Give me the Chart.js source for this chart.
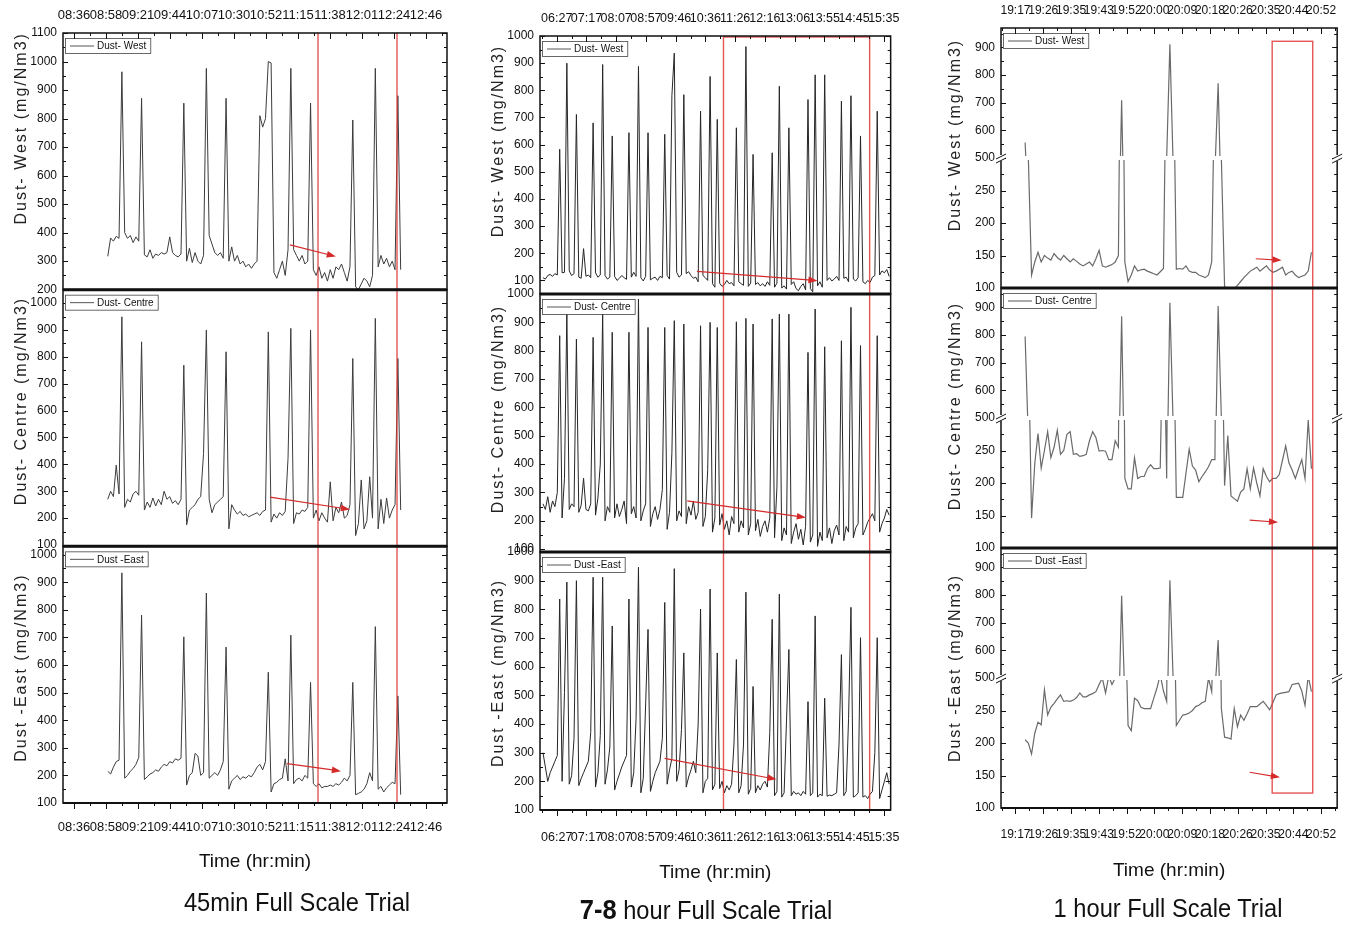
<!DOCTYPE html>
<html>
<head>
<meta charset="utf-8">
<title>Dust concentration - full scale trials</title>
<script src="https://cdn.jsdelivr.net/npm/chart.js@4.4.1/dist/chart.umd.min.js"></script>
<style>
  body { margin: 0; background: #fff; }
  #wrap { position: relative; width: 1356px; height: 926px; overflow: hidden; }
  canvas { position: absolute; top: 0; }
  .trial { position: absolute; transform: translate(-50%, -50%) scaleX(0.91); white-space: nowrap; color: #111;
           font-family: 'Liberation Sans', Arial, sans-serif; font-size: 26px; }
  .trial b { font-size: 28px; }
</style>
</head>
<body>
<div id="wrap">
  <canvas id="c45" width="460" height="926" style="left:0"></canvas>
  <canvas id="c78" width="460" height="926" style="left:460px"></canvas>
  <canvas id="c1h" width="436" height="926" style="left:920px"></canvas>
  <div class="trial" style="left:297px;top:902px">45min Full Scale Trial</div>
  <div class="trial" style="left:706px;top:910px"><b>7-8</b> hour Full Scale Trial</div>
  <div class="trial" style="left:1168px;top:908px">1 hour Full Scale Trial</div>
</div>
<script>
const FONT = "'Liberation Sans', Arial, sans-serif";

// time axis tick labels
const ticks45 = ['08:36', '08:58', '09:21', '09:44', '10:07', '10:30', '10:52', '11:15', '11:38', '12:01', '12:24', '12:46'];
const ticks78 = ['06:27', '07:17', '08:07', '08:57', '09:46', '10:36', '11:26', '12:16', '13:06', '13:55', '14:45', '15:35'];
const ticks1h = ['19:17', '19:26', '19:35', '19:43', '19:52', '20:00', '20:09', '20:18', '20:26', '20:35', '20:44', '20:52'];

// y tick values
const yTicksWest45 = [200, 300, 400, 500, 600, 700, 800, 900, 1000, 1100];
const yTicks100 = [100, 200, 300, 400, 500, 600, 700, 800, 900, 1000];
const yTicksHigh = [500, 600, 700, 800, 900];
const yTicksLow = [100, 150, 200, 250];

// logger sampling (start time, minutes between readings)
const start45 = '09:00', step45 = 2;
const start78 = '06:04', step78 = 4;
const start1h = '19:20', step1h = 1;

// 45 min trial, mg/Nm3
const west45 = [317,381,370,387,380,964,400,380,390,365, 385,370,871,322,315,340,310,325,320,330,
  325,330,385,330,320,315,325,854,300,345, 295,330,300,290,320,976,390,360,330,320,
  330,310,871,300,350,300,320,290,300,280, 290,275,290,300,810,770,800,1000,995,260,
  240,270,300,250,340,976,340,320,300,320, 290,300,854,270,250,280,240,260,230,270,
  240,280,270,290,260,230,280,795,210,200, 220,240,230,210,250,976,280,320,290,310,
  280,300,270,880,270];
const centre45 = [270,300,280,397,290,949,240,270,260,290, 300,285,856,230,260,240,275,245,270,250,
  300,270,280,255,265,250,270,769,175,230, 240,250,270,280,441,900,270,220,250,260,
  270,280,819,160,250,230,215,225,210,215, 205,210,215,220,210,225,230,893,185,215,
  200,220,210,225,422,906,180,220,215,230, 225,240,900,200,230,190,220,200,185,335,
  190,240,220,260,200,210,250,794,135,180, 342,160,190,354,200,943,160,270,180,275,
  200,230,250,794,230];
const east45 = [215,205,230,250,255,934,190,200,215,225, 240,265,781,185,195,205,210,220,215,230,
  240,235,250,245,260,255,262,702,165,200, 210,280,270,200,210,861,190,200,210,200,
  220,250,665,150,180,190,200,185,195,190, 200,195,210,230,240,220,250,574,140,170,
  175,185,190,260,180,708,170,185,190,180, 200,190,537,170,160,170,155,160,160,165,
  160,170,165,175,190,180,200,537,130,135, 140,150,170,210,180,739,150,160,140,155,
  165,175,170,488,130];

// 7-8 hour trial, mg/Nm3
const west78 = [110,105,118,122,115,125,120,583,128,130, 900,135,118,125,711,112,108,217,115,120,
  110,680,128,112,120,895,118,105,112,632, 115,100,108,118,110,104,644,112,130,115,
  888,110,98,115,644,102,108,112,100,115, 110,638,118,105,780,937,130,112,120,784,
  125,132,118,108,112,95,723,118,110,100, 851,88,75,693,90,78,85,100,88,92,
  80,662,95,88,82,961,78,90,564,85, 92,80,88,78,95,82,570,75,90,815,
  72,80,68,662,85,95,70,62,78,88, 65,766,70,58,857,80,95,75,857,100,
  110,98,105,115,100,760,108,112,95,780, 105,98,110,632,95,88,100,92,112,118,
  723,120,135,128,140,115];
const centre78 = [260,240,285,230,270,250,300,853,210,350, 935,240,260,250,841,230,255,350,240,235,
  260,847,220,280,400,929,200,250,230,865, 210,260,215,240,270,190,865,225,250,210,
  982,200,235,260,882,180,225,250,205,240, 310,882,170,230,440,906,200,235,215,894,
  190,250,220,270,205,230,888,180,215,380, 900,160,210,882,185,225,170,200,150,215,
  190,902,160,200,175,914,150,190,894,165, 205,145,180,200,160,210,912,140,320,929,
  130,175,150,929,120,160,190,135,170,115, 180,794,125,150,947,110,160,130,814,140,
  175,120,165,185,150,835,130,180,160,953, 140,175,190,818,150,170,195,210,225,200,
  853,160,190,210,240,220];
const east78 = [300,250,200,230,250,270,290,836,200,510, 895,190,220,350,900,185,210,230,250,270,
  370,912,180,230,360,912,190,240,320,742, 170,200,225,250,270,290,836,180,230,420,
  947,160,210,470,730,165,200,230,250,270, 350,824,190,240,280,942,200,240,380,648,
  180,215,240,270,230,400,801,160,200,210, 871,170,190,648,175,200,160,185,170,190,
  330,625,160,185,330,860,155,175,531,160, 185,170,190,200,180,370,765,150,165,853,
  145,160,410,660,150,165,155,160,150,165, 155,478,150,160,777,145,155,150,490,148,
  152,150,155,160,330,642,150,165,420,807, 145,150,160,701,145,150,140,155,165,300,
  701,140,170,200,230,190];

// 1 hour trial, mg/Nm3
const west1h = [556,300,120,140,155,140,150,146,143,153, 147,143,150,145,140,145,141,137,134,137,
  140,134,145,158,134,132,134,136,140,150, 709,140,110,120,134,126,128,129,126,124,
  122,120,125,130,500,911,480,129,130,129, 134,126,124,124,120,118,116,120,140,450,
  770,300,102,100,98,99,104,110,116,121, 126,129,132,126,130,134,128,124,126,129,
  132,120,124,126,120,116,118,120,126,155];
const centre1h = [795,420,146,230,276,223,250,279,239,255, 281,244,250,275,279,244,245,241,242,244,
  265,279,270,249,250,249,236,236,265,255, 868,207,191,191,239,207,210,210,222,228,
  222,222,223,490,207,917,480,178,178,178, 215,252,226,220,202,210,217,225,236,236,
  905,500,196,273,180,176,172,186,191,222, 191,223,200,180,222,210,202,207,207,213,
  235,257,231,220,207,222,236,207,297,222];
const east1h = [205,200,183,215,232,228,282,243,255,261, 268,274,264,265,264,266,270,277,271,271,
  274,276,279,290,300,277,303,290,300,310, 797,420,227,219,269,265,255,253,253,253,
  269,285,305,280,264,853,500,227,235,243, 244,246,250,256,258,262,264,300,279,450,
  637,253,209,208,206,253,225,243,235,245, 256,256,256,260,264,258,251,262,274,276,
  277,278,279,290,291,292,280,258,303,279];

function toMin(s) {
    const p = s.split(':');
    return +p[0] * 60 + +p[1];
}

// labels are evenly spaced between the first and last one
function tickPositions(labels) {
    const a = toMin(labels[0]), b = toMin(labels[labels.length - 1]);
    const step = (b - a) / (labels.length - 1);
    return labels.map((l, i) => a + i * step);
}

function points(start, step, values) {
    const t0 = toMin(start);
    return values.map((v, i) => ({ x: t0 + i * step, y: v }));
}

function line(data, yAxisID, color, width) {
    return { data, yAxisID, xAxisID: 'x', borderColor: color, borderWidth: width || 1,
             pointRadius: 0, tension: 0, fill: false };
}

function yAxis(min, max, values, width) {
    return {
        type: 'linear', position: 'left', stack: 'panels', stackWeight: 1, min, max,
        afterBuildTicks: s => { s.ticks = values.map(v => ({ value: v })); },
        afterFit: s => { s.width = width; },
        grid: { display: false, drawTicks: false }, border: { display: false },
        ticks: { autoSkip: false, padding: 6, color: '#111', font: { family: FONT, size: 12 },
                 callback: v => String(v) }
    };
}

function xAxis(position, min, max, labels, height, pad, size) {
    const pos = tickPositions(labels);
    return {
        type: 'linear', position, min, max,
        afterBuildTicks: s => { s.ticks = pos.map(v => ({ value: v })); },
        afterFit: s => { s.height = height; },
        grid: { display: false, drawTicks: false }, border: { display: false },
        ticks: { autoSkip: false, maxRotation: 0, minRotation: 0, padding: pad, color: '#111',
                 font: { family: FONT, size }, callback: (v, i) => labels[i] },
        title: { display: position === 'bottom', text: 'Time (hr:min)', color: '#111',
                 font: { family: FONT, size: 19 }, padding: { top: 0, bottom: 7 } }
    };
}

function seg(ctx, x0, y0, x1, y1) {
    ctx.beginPath();
    ctx.moveTo(x0, y0);
    ctx.lineTo(x1, y1);
    ctx.stroke();
}

function drawRed(chart, r) {
    const ctx = chart.ctx, x = chart.scales.x;
    const { top, bottom } = chart.chartArea;
    ctx.strokeStyle = 'rgba(225,55,55,0.85)';
    ctx.lineWidth = 1.4;
    (r.lines || []).forEach(t => {
        const px = x.getPixelForValue(t);
        seg(ctx, px, top, px, bottom);
    });
    if (r.box) {
        const x0 = x.getPixelForValue(r.box.x0), x1 = x.getPixelForValue(r.box.x1);
        const y0 = r.box.y0 ? chart.scales[r.box.y0[0]].getPixelForValue(r.box.y0[1]) : top + 1;
        const y1 = r.box.y1 ? chart.scales[r.box.y1[0]].getPixelForValue(r.box.y1[1]) : bottom;
        ctx.strokeRect(x0, y0, x1 - x0, y1 - y0);
    }
    ctx.strokeStyle = '#d42a2a';
    ctx.fillStyle = '#d42a2a';
    ctx.lineWidth = 1.2;
    (r.arrows || []).forEach(a => {
        const y = chart.scales[a.axis];
        const p0 = [x.getPixelForValue(a.from[0]), y.getPixelForValue(a.from[1])];
        const p1 = [x.getPixelForValue(a.to[0]), y.getPixelForValue(a.to[1])];
        seg(ctx, p0[0], p0[1], p1[0], p1[1]);
        const ang = Math.atan2(p1[1] - p0[1], p1[0] - p0[0]);
        ctx.beginPath();
        ctx.moveTo(p1[0] + 3 * Math.cos(ang), p1[1] + 3 * Math.sin(ang));
        ctx.lineTo(p1[0] - 7 * Math.cos(ang - 0.5), p1[1] - 7 * Math.sin(ang - 0.5));
        ctx.lineTo(p1[0] - 7 * Math.cos(ang + 0.5), p1[1] - 7 * Math.sin(ang + 0.5));
        ctx.closePath();
        ctx.fill();
    });
}

function yTickMarks(ctx, s, L, R) {
    const v = s.ticks.map(t => t.value);
    const half = (v[1] - v[0]) / 2;
    for (let t = v[0] - half; t <= s.max + 1e-6; t += half) {
        if (t < s.min - 1e-6) continue;
        const y = Math.round(s.getPixelForValue(t)) + 0.5;
        const len = v.some(m => Math.abs(m - t) < 1e-6) ? 5 : 3;
        seg(ctx, L, y, L + len, y);
        seg(ctx, R, y, R - len, y);
    }
}

const decor = {
    id: 'decor',
    afterDatasetsDraw(chart, args, o) {
        const ctx = chart.ctx, x = chart.scales.x;
        const L = x.left, R = x.right;
        const T = chart.chartArea.top, B = chart.chartArea.bottom;
        ctx.save();

        // white gap where the broken axes meet
        o.panels.forEach(p => {
            if (p.axes.length > 1) {
                const yb = chart.scales[p.axes[0]].bottom;
                ctx.fillStyle = '#fff';
                ctx.fillRect(L + 1, yb - 2, R - L - 2, 4);
            }
        });

        drawRed(chart, o.red);

        ctx.strokeStyle = '#111';
        o.panels.forEach((p, k) => {
            const axes = p.axes.map(id => chart.scales[id]);
            const top = axes[0].top, bottom = axes[axes.length - 1].bottom;

            ctx.lineWidth = 1.5;
            ctx.strokeRect(L, top, R - L, bottom - top);
            ctx.lineWidth = 1;
            axes.forEach(a => yTickMarks(ctx, a, L, R));
            if (k > 0) {
                ctx.lineWidth = 3;
                seg(ctx, L, top, R, top);
            }

            // axis break marks
            if (axes.length > 1) {
                const yb = axes[0].bottom;
                [L, R].forEach(ex => {
                    ctx.fillStyle = '#fff';
                    ctx.fillRect(ex - 4, yb - 3, 8, 6);
                    ctx.lineWidth = 1;
                    ctx.strokeStyle = '#111';
                    seg(ctx, ex - 5, yb + 1, ex + 5, yb - 4);
                    seg(ctx, ex - 5, yb + 5, ex + 5, yb);
                });
            }

            // panel legend
            ctx.font = '10px ' + FONT;
            const tw = ctx.measureText(p.label).width;
            const bx = L + 2, by = top + 5, bw = tw + 36, bh = 15;
            ctx.fillStyle = '#fff';
            ctx.fillRect(bx, by, bw, bh);
            ctx.lineWidth = 0.8;
            ctx.strokeStyle = '#444';
            ctx.strokeRect(bx + 0.5, by + 0.5, bw, bh);
            ctx.strokeStyle = '#555';
            ctx.lineWidth = 1;
            seg(ctx, bx + 5, by + bh / 2 + 0.5, bx + 29, by + bh / 2 + 0.5);
            ctx.fillStyle = '#111';
            ctx.textAlign = 'left';
            ctx.textBaseline = 'middle';
            ctx.fillText(p.label, bx + 32, by + bh / 2 + 1);
            ctx.strokeStyle = '#111';

            // y title
            ctx.save();
            ctx.translate(o.titleX, (top + bottom) / 2 + p.shift);
            ctx.rotate(-Math.PI / 2);
            ctx.font = '16px ' + FONT;
            ctx.letterSpacing = '2px';
            ctx.textAlign = 'center';
            ctx.fillStyle = '#222';
            ctx.fillText(p.title, 0, 0);
            ctx.restore();
        });

        // time axis ticks: inward on top, outward at the bottom
        ctx.lineWidth = 1;
        ctx.strokeStyle = '#111';
        const xv = x.ticks.map(t => t.value);
        const hx = (xv[1] - xv[0]) / 2;
        for (let t = xv[0] - hx; t <= x.max; t += hx) {
            if (t < x.min) continue;
            const px = Math.round(x.getPixelForValue(t)) + 0.5;
            const major = xv.some(m => Math.abs(m - t) < 1e-6);
            seg(ctx, px, T, px, T + (major ? 6 : 3));
            seg(ctx, px, B, px, B + (major ? 6 : 3));
        }
        ctx.lineWidth = 2;
        seg(ctx, L, B, R, B);
        ctx.restore();
    }
};

function baseOptions(padding, scales, decorOpts) {
    return {
        responsive: false,
        animation: false,
        layout: { padding },
        scales,
        plugins: { legend: { display: false }, tooltip: { enabled: false }, decor: decorOpts }
    };
}

const panelNames = [['Dust- West', 'Dust- West (mg/Nm3)'], ['Dust- Centre', 'Dust- Centre (mg/Nm3)'], ['Dust -East', 'Dust -East (mg/Nm3)']];

// 45 min trial
new Chart(document.getElementById('c45'), {
    type: 'line',
    data: { datasets: [
        line(points(start45, step45, west45), 'yW', '#3c3c3c'),
        line(points(start45, step45, centre45), 'yC', '#3c3c3c'),
        line(points(start45, step45, east45), 'yE', '#3c3c3c')
    ] },
    options: baseOptions({ left: 0, right: 13, top: 0, bottom: 46 }, {
        x: xAxis('bottom', 508.2, 780.9, ticks45, 77, 17, 13),
        xTop: xAxis('top', 508.2, 780.9, ticks45, 33, 10, 13),
        yE: yAxis(100, 1030, yTicks100, 63),
        yC: yAxis(95, 1050, yTicks100, 63),
        yW: yAxis(200, 1100, yTicksWest45, 63)
    }, {
        titleX: 22,
        panels: [
            { label: panelNames[0][0], title: panelNames[0][1], axes: ['yW'], shift: -33 },
            { label: panelNames[1][0], title: panelNames[1][1], axes: ['yC'], shift: -17 },
            { label: panelNames[2][0], title: panelNames[2][1], axes: ['yE'], shift: -7 }
        ],
        red: {
            lines: [689.3, 745.4],
            arrows: [
                { axis: 'yW', from: [669.4, 357], to: [699.9, 319] },
                { axis: 'yC', from: [655.2, 278], to: [709.9, 234] },
                { axis: 'yE', from: [667.3, 243], to: [703.5, 217] }
            ]
        }
    }),
    plugins: [decor]
});

// 7-8 hour trial
new Chart(document.getElementById('c78'), {
    type: 'line',
    data: { datasets: [
        line(points(start78, step78, west78), 'yW', '#262626'),
        line(points(start78, step78, centre78), 'yC', '#262626'),
        line(points(start78, step78, east78), 'yE', '#262626')
    ] },
    options: baseOptions({ left: 0, right: 23, top: 0, bottom: 35 }, {
        x: xAxis('bottom', 359, 946.5, ticks78, 81, 20, 12.5),
        xTop: xAxis('top', 359, 946.5, ticks78, 36, 10, 12.5),
        yE: yAxis(100, 1000, yTicks100, 80),
        yC: yAxis(90, 1000, yTicks100, 80),
        yW: yAxis(50, 1000, yTicks100, 80)
    }, {
        titleX: 39,
        panels: [
            { label: panelNames[0][0], title: panelNames[0][1], axes: ['yW'], shift: -24 },
            { label: panelNames[1][0], title: panelNames[1][1], axes: ['yC'], shift: -14 },
            { label: panelNames[2][0], title: panelNames[2][1], axes: ['yE'], shift: -8 }
        ],
        red: {
            box: { x0: 666.4, x1: 911.3 },
            arrows: [
                { axis: 'yW', from: [622, 133], to: [819, 100] },
                { axis: 'yC', from: [605.6, 270], to: [799.6, 213] },
                { axis: 'yE', from: [567.8, 280], to: [750.2, 209] }
            ]
        }
    }),
    plugins: [decor]
});

// 1 hour trial, broken y axes (100-300 below, 500-970 above)
new Chart(document.getElementById('c1h'), {
    type: 'line',
    data: { datasets: [
        line(points(start1h, step1h, west1h), 'wHi', '#6a6a6a', 1.2),
        line(points(start1h, step1h, west1h), 'wLo', '#6a6a6a', 1.2),
        line(points(start1h, step1h, centre1h), 'cHi', '#6a6a6a', 1.2),
        line(points(start1h, step1h, centre1h), 'cLo', '#6a6a6a', 1.2),
        line(points(start1h, step1h, east1h), 'eHi', '#6a6a6a', 1.2),
        line(points(start1h, step1h, east1h), 'eLo', '#6a6a6a', 1.2)
    ] },
    options: baseOptions({ left: 0, right: 9, top: 0, bottom: 37 }, {
        x: xAxis('bottom', 1152.5, 1257, ticks1h, 81, 19, 12),
        xTop: xAxis('top', 1152.5, 1257, ticks1h, 28, 10, 12),
        eLo: yAxis(100, 300, yTicksLow, 81),
        eHi: yAxis(500, 970, yTicksHigh, 81),
        cLo: yAxis(100, 300, yTicksLow, 81),
        cHi: yAxis(500, 970, yTicksHigh, 81),
        wLo: yAxis(100, 300, yTicksLow, 81),
        wHi: yAxis(500, 970, yTicksHigh, 81)
    }, {
        titleX: 36,
        panels: [
            { label: panelNames[0][0], title: panelNames[0][1], axes: ['wHi', 'wLo'], shift: -23 },
            { label: panelNames[1][0], title: panelNames[1][1], axes: ['cHi', 'cLo'], shift: -12 },
            { label: panelNames[2][0], title: panelNames[2][1], axes: ['eHi', 'eLo'], shift: -10 }
        ],
        red: {
            box: { x0: 1236.8, x1: 1249.4, y0: ['wHi', 922], y1: ['eLo', 123] },
            arrows: [
                { axis: 'wLo', from: [1231.7, 145], to: [1238.8, 143] },
                { axis: 'cLo', from: [1229.8, 143], to: [1237.7, 140] },
                { axis: 'eLo', from: [1229.8, 155], to: [1238.3, 148] }
            ]
        }
    }),
    plugins: [decor]
});
</script>
</body>
</html>
